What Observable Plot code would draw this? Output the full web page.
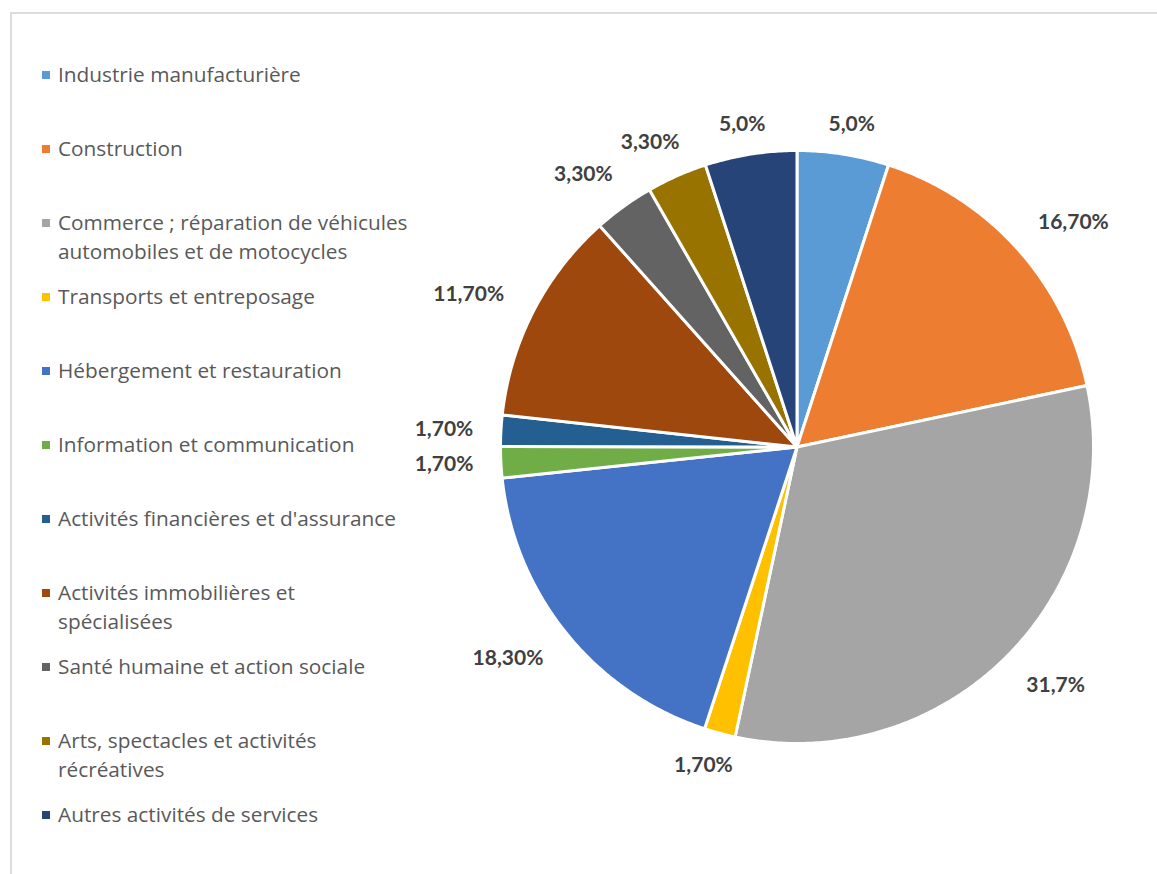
<!DOCTYPE html>
<html>
<head>
<meta charset="utf-8">
<script src="https://cdn.jsdelivr.net/npm/d3@7"></script>
<script src="https://cdn.jsdelivr.net/npm/@observablehq/plot@0.6"></script>
<style>
  html, body { margin: 0; padding: 0; background: #fff; }
  #wrap { position: relative; width: 1157px; height: 874px; overflow: hidden; font-family: "Open Sans", Lato, sans-serif; }
  #frame { position: absolute; left: 10px; top: 12px; right: -10px; bottom: -10px; border-left: 2px solid #dcdcdc; border-top: 2px solid #dcdcdc; }
  #chart { position: absolute; left: 0; top: 0; }
  #legend { position: absolute; left: 42px; top: 60px; }
  .item { position: relative; height: 74px; }
  .sw { position: absolute; left: 0; top: 10.5px; width: 8px; height: 8px; }
  .lab { position: absolute; left: 16px; top: 0; font-size: 20.8px; line-height: 29px; color: #595959; white-space: pre; }
</style>
</head>
<body>
<div id="wrap">
  <div id="frame"></div>
  <div id="chart"></div>
  <div id="legend"></div>
</div>
<script>
const categories = [
  "Industrie manufacturière",
  "Construction",
  "Commerce ; réparation de véhicules\nautomobiles et de motocycles",
  "Transports et entreposage",
  "Hébergement et restauration",
  "Information et communication",
  "Activités financières et d'assurance",
  "Activités immobilières et\nspécialisées",
  "Santé humaine et action sociale",
  "Arts, spectacles et activités\nrécréatives",
  "Autres activités de services"
];
const values = [5.0, 16.7, 31.7, 1.7, 18.3, 1.7, 1.7, 11.7, 3.3, 3.3, 5.0];
const valueLabels = ["5,0%", "16,70%", "31,7%", "1,70%", "18,30%", "1,70%", "1,70%", "11,70%", "3,30%", "3,30%", "5,0%"];
const colors = ["#5B9BD5", "#ED7D31", "#A5A5A5", "#FFC000", "#4472C4", "#70AD47", "#255E91", "#9E480E", "#636363", "#997300", "#264478"];

// layout (pixels)
const W = 1157, H = 874, CX = 796.5, CY = 446.5, R = 296.5;

const arcs = d3.pie().sort(null).value(d => d)(values);

// slice polygons in unit-circle coordinates (y up)
const sliceRows = [];
arcs.forEach((a, i) => {
  const cat = categories[i];
  sliceRows.push({cat, x: 0, y: 0});
  const n = Math.max(2, Math.ceil((a.endAngle - a.startAngle) / (Math.PI / 360)));
  for (let k = 0; k <= n; k++) {
    const t = a.startAngle + (a.endAngle - a.startAngle) * k / n;
    sliceRows.push({cat, x: Math.sin(t), y: Math.cos(t)});
  }
  sliceRows.push({cat, x: 0, y: 0});
});

// outside-end labels
const labelRows = arcs.map((a, i) => {
  const t = (a.startAngle + a.endAngle) / 2;
  const text = valueLabels[i];
  const w = text.length * 11.8;
  const g = 26 + 14 * Math.abs(Math.sin(2 * t));
  const px = (R + g) * Math.sin(t) + (w / 2) * Math.sin(t);
  const py = (R + g) * Math.cos(t);
  return {text, x: px / R, y: py / R};
});

const plot = Plot.plot({
  width: W,
  height: H,
  margin: 0,
  x: {domain: [-1, 1], range: [CX - R, CX + R], axis: null},
  y: {domain: [-1, 1], range: [CY + R, CY - R], axis: null},
  color: {domain: categories, range: colors},
  style: {background: "transparent"},
  marks: [
    Plot.line(sliceRows, {x: "x", y: "y", z: "cat", fill: "cat", stroke: "white", strokeWidth: 3, curve: "linear", strokeLinejoin: "round"}),
    Plot.text(labelRows, {x: "x", y: "y", text: "text", fontSize: 21, fontWeight: "bold", fill: "#404040", fontFamily: "Lato, sans-serif"})
  ]
});
document.getElementById("chart").appendChild(plot);

const legend = document.getElementById("legend");
categories.forEach((c, i) => {
  const item = document.createElement("div");
  item.className = "item";
  const sw = document.createElement("div");
  sw.className = "sw";
  sw.style.background = colors[i];
  const lab = document.createElement("div");
  lab.className = "lab";
  lab.textContent = c;
  item.appendChild(sw);
  item.appendChild(lab);
  legend.appendChild(item);
});
</script>
</body>
</html>
